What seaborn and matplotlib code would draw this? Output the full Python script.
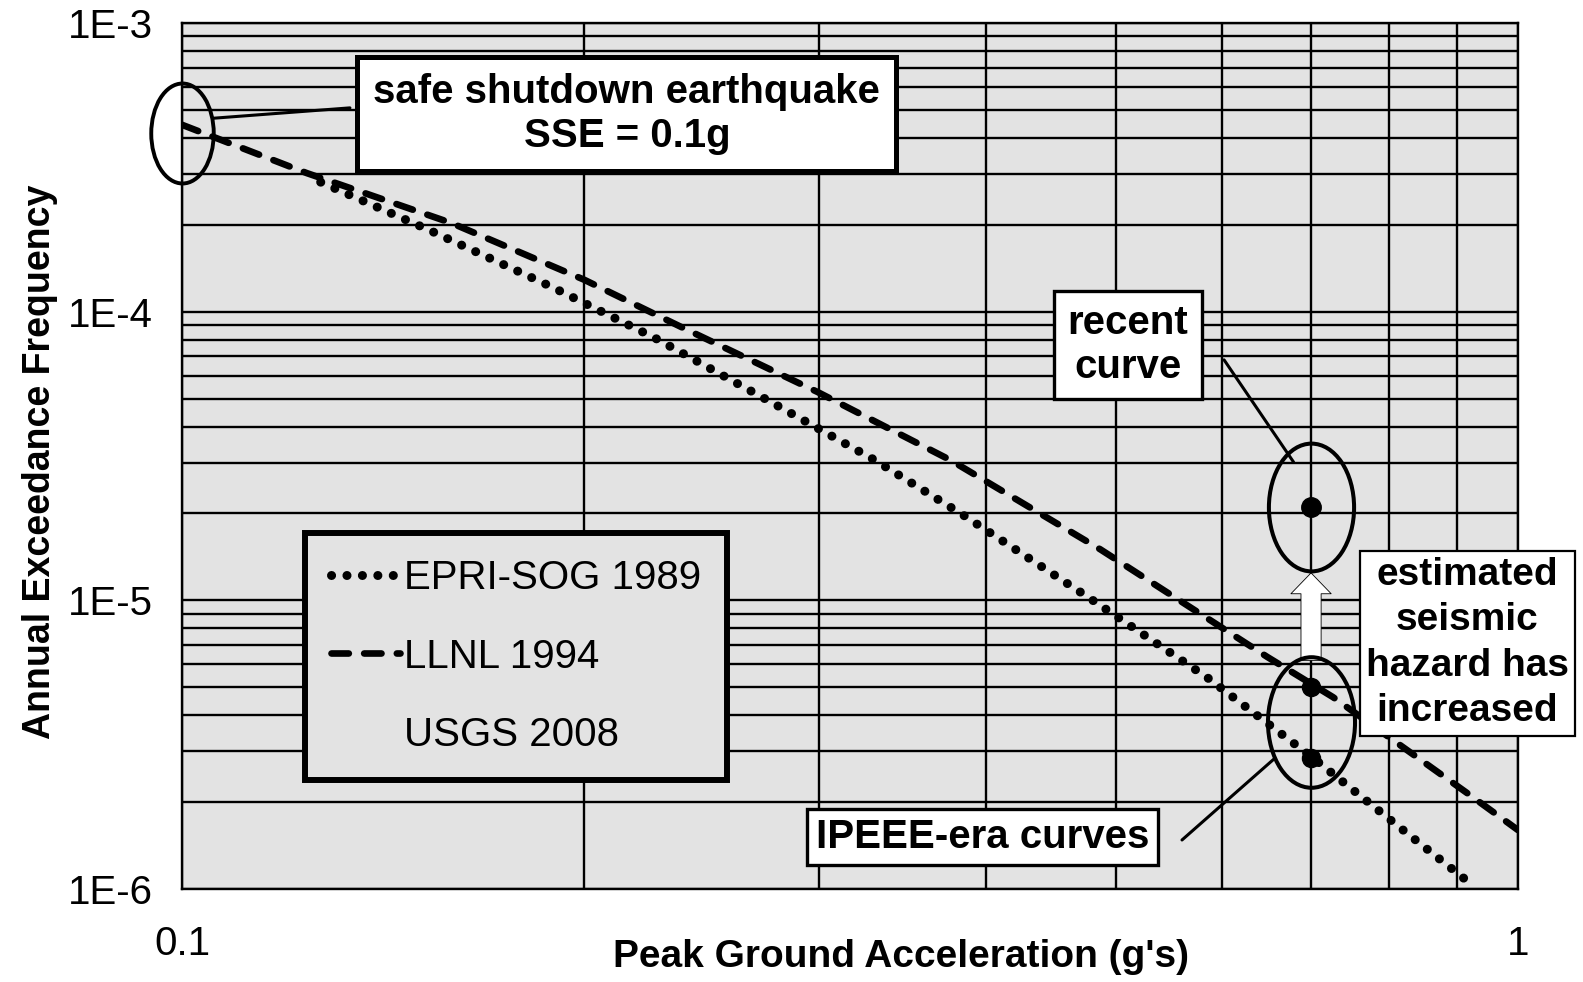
import matplotlib
matplotlib.use("Agg")
import matplotlib.pyplot as plt
from matplotlib.lines import Line2D
from matplotlib.path import Path
from matplotlib.ticker import NullFormatter
from matplotlib.transforms import Affine2D
import numpy as np
import pandas as pd
import seaborn as sns

# hazard curves
PGA_EPRI = [0.127, 0.153, 0.189, 0.226, 0.276, 0.330, 0.384, 0.476, 0.586, 0.702, 0.826, 0.913]
AEF_EPRI = [2.81e-4, 1.92e-4, 1.22e-4, 8.1e-5, 4.86e-5, 3.06e-5, 1.98e-5, 1.03e-5, 5.38e-6, 2.85e-6, 1.56e-6, 1.08e-6]
PGA_LLNL = [0.1, 0.124, 0.159, 0.2, 0.237, 0.299, 0.376, 0.487, 0.649, 0.727, 0.916, 1.0]
AEF_LLNL = [4.44e-4, 3.02e-4, 2.03e-4, 1.29e-4, 8.8e-5, 5.27e-5, 3.06e-5, 1.50e-5, 6.37e-6, 4.62e-6, 2.15e-6, 1.60e-6]

# highlighted points
SSE_PGA = [0.1]
SSE_AEF = [4.15e-4]
RECENT_PGA = [0.7]
RECENT_AEF = [2.11e-5]
IPEEE_PGA = [0.7, 0.7]
IPEEE_AEF = [5.0e-6, 2.85e-6]

X_TICKS = [0.1, 1]
X_LABELS = ["0.1", "1"]
Y_TICKS = [1e-6, 1e-5, 1e-4, 1e-3]
Y_LABELS = ["1E-6", "1E-5", "1E-4", "1E-3"]

LEGEND_LABELS = ["EPRI-SOG 1989", "LLNL 1994", "USGS 2008"]

BG = "#e3e3e3"
W, H = 1583, 982

sns.set_style("white")
plt.rcParams["font.family"] = ["Liberation Sans", "DejaVu Sans"]
plt.rcParams["text.color"] = "black"
plt.rcParams["axes.labelcolor"] = "black"
plt.rcParams["xtick.color"] = "black"
plt.rcParams["ytick.color"] = "black"

fig = plt.figure(figsize=(W / 100, H / 100), dpi=100)
ax = fig.add_axes([182 / W, 1 - 889 / H, 1336 / W, 866 / H])
ax.set_facecolor(BG)
ax.set_xscale("log")
ax.set_yscale("log")

epri = pd.DataFrame({"pga": PGA_EPRI, "aef": AEF_EPRI})
llnl = pd.DataFrame({"pga": PGA_LLNL, "aef": AEF_LLNL})

sns.lineplot(data=epri, x="pga", y="aef", ax=ax, color="black", lw=6.5,
             sort=False, estimator=None, linestyle=(0, (0.01, 1.7)))
epri_line = ax.lines[-1]
sns.lineplot(data=llnl, x="pga", y="aef", ax=ax, color="black", lw=4.8,
             sort=False, estimator=None, linestyle=(0, (2.6, 2.3)))
llnl_line = ax.lines[-1]
for ln in (epri_line, llnl_line):
    ln.set_dash_capstyle("round")

# ellipses drawn as hollow markers
ell_sse = Path.unit_circle().transformed(Affine2D().scale(1.0, 1.6))
ell = Path.unit_circle().transformed(Affine2D().scale(1.0, 1.5))
ax.plot(SSE_PGA, SSE_AEF, marker=ell_sse, ms=72, mfc="none", mec="black",
        mew=2.8, ls="none", clip_on=False, zorder=4)
ax.plot(RECENT_PGA, RECENT_AEF, marker=ell, ms=92, mfc="none", mec="black",
        mew=2.9, ls="none", zorder=4)
ax.plot([IPEEE_PGA[0]], [np.sqrt(IPEEE_AEF[0] * IPEEE_AEF[1])], marker=ell, ms=94,
        mfc="none", mec="black", mew=2.9, ls="none", zorder=4)
ax.plot(RECENT_PGA, RECENT_AEF, "o", color="black", ms=14, zorder=4)
ax.plot(IPEEE_PGA, IPEEE_AEF, "o", color="black", ms=13, zorder=4)

# hollow arrow between the two ellipses
ax.annotate("", xy=(0.7, 0.365), xytext=(0.7, 0.264),
            xycoords=("data", "axes fraction"), textcoords=("data", "axes fraction"),
            arrowprops=dict(arrowstyle="simple,head_length=1.5,head_width=2.9,tail_width=1.45",
                            fc="white", ec="black", lw=0.6, mutation_scale=10,
                            shrinkA=0, shrinkB=0), zorder=3)

# leader lines
for start, end in [((0.0232, 0.890), (0.1257, 0.902)),
                   ((0.780, 0.611), (0.832, 0.493)),
                   ((0.7485, 0.0566), (0.818, 0.151))]:
    ax.annotate("", xy=end, xytext=start, xycoords="axes fraction",
                arrowprops=dict(arrowstyle="-", lw=2.2, color="black",
                                shrinkA=0, shrinkB=0), zorder=4)

box_text = dict(transform=ax.transAxes, ha="center", va="center",
                fontweight="bold", zorder=6)
ax.text(0.333, 0.895, "safe shutdown earthquake\nSSE = 0.1g", fontsize=29,
        bbox=dict(boxstyle="square,pad=0.4", fc="white", ec="black", lw=3.6), **box_text)
ax.text(0.708, 0.628, "recent\ncurve", fontsize=29,
        bbox=dict(boxstyle="square,pad=0.33", fc="white", ec="black", lw=2.4), **box_text)
ax.text(0.962, 0.284, "estimated\nseismic\nhazard has\nincreased", fontsize=28,
        linespacing=1.34,
        bbox=dict(boxstyle="square,pad=0.16", fc="white", ec="black", lw=1.6), **box_text)
ax.text(0.599, 0.060, "IPEEE-era curves", fontsize=29,
        bbox=dict(boxstyle="square,pad=0.22", fc="white", ec="black", lw=2.4), **box_text)

handles = [epri_line, llnl_line, Line2D([], [], ls="none")]
leg = ax.legend(handles, LEGEND_LABELS, loc="upper left", bbox_to_anchor=(0.092, 0.411),
                borderaxespad=0, frameon=True, fancybox=False, facecolor=BG,
                edgecolor="black", framealpha=1, fontsize=29, handlelength=1.7,
                handletextpad=0.1, borderpad=0.65, labelspacing=1.0)
leg.get_frame().set_linewidth(4.3)

ax.set_xlim(0.1, 1)
ax.set_ylim(1e-6, 1e-3)
ax.set_xticks(X_TICKS, labels=X_LABELS)
ax.set_yticks(Y_TICKS, labels=Y_LABELS)
ax.xaxis.set_minor_formatter(NullFormatter())
ax.yaxis.set_minor_formatter(NullFormatter())
ax.tick_params(which="major", direction="out", length=10, width=1.6, labelsize=29,
               color="black", labelcolor="black")
ax.tick_params(axis="x", which="major", pad=16)
ax.tick_params(axis="y", which="major", pad=11)
ax.tick_params(which="minor", length=0)
ax.grid(True, which="both", color="black", lw=1.7)
ax.set_axisbelow(True)
for s in ax.spines.values():
    s.set_color("black")
    s.set_linewidth(1.7)

ax.set_xlabel("Peak Ground Acceleration (g's)", fontsize=28, fontweight="bold")
ax.xaxis.set_label_coords(0.538, -0.058)
ax.set_ylabel("Annual Exceedance Frequency", fontsize=27, fontweight="bold")
ax.yaxis.set_label_coords(-0.093, 0.493)

fig.savefig("out.png", dpi=100)
